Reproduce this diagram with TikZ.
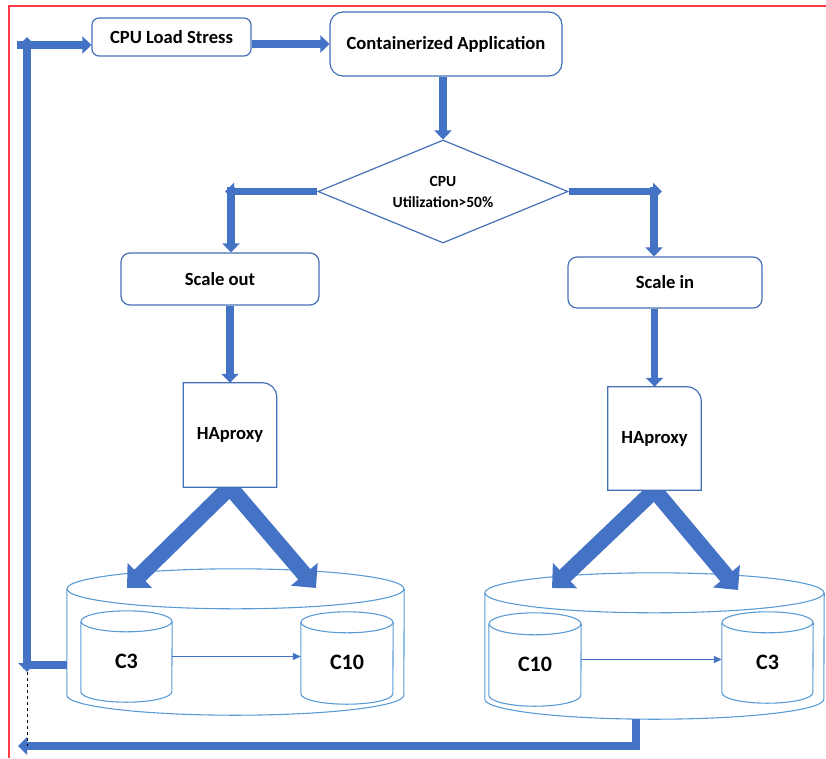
\documentclass[tikz,border=0pt]{standalone}
\usepackage{fontspec}
\setmainfont{Carlito}
\definecolor{boxblue}{HTML}{4470B8}
\definecolor{fatblue}{HTML}{4472C4}
\definecolor{cylblue}{HTML}{5B9BD5}
\definecolor{framered}{HTML}{FF3B47}
\usetikzlibrary{arrows.meta, shapes.geometric, backgrounds, calc}
\newcommand{\drawcyl}[3]
{
	\draw[cylline] ([yshift=-#3]#1.north) ellipse [x radius=#2, y radius=#3];
	\draw[cylline] ([yshift=-#3]#1.north west) -- ([yshift=#3]#1.south west)
		arc [start angle=180, end angle=360, x radius=#2, y radius=#3] -- ([yshift=-#3]#1.north east);
}
\newcommand{\drawproxy}[1]
{
	\draw[proxyline] (#1.south west) -- (#1.north west) -- ([xshift=-14pt]#1.north east)
		arc [start angle=90, end angle=0, radius=14pt] -- (#1.south east) -- cycle;
}

\begin{document}
\begin{tikzpicture}[x=1pt, y=-1pt,
	every node/.append style={font=\bfseries\fontsize{18.6}{20}\selectfont, inner sep=0pt},
	stepbox/.style={shape=rectangle, draw=boxblue, line width=1.2pt, rounded corners=9pt},
	decbox/.style={shape=diamond, draw=boxblue, line width=1.2pt, align=center, aspect=2.43,
		font=\bfseries\fontsize{15.5}{21}\selectfont},
	proxybox/.style={shape=rectangle, fill=white, minimum width=93pt, minimum height=104pt},
	cylbox/.style={shape=rectangle, text height=24pt, font=\bfseries\fontsize{22}{24}\selectfont},
	cylline/.style={draw=cylblue, line width=1.1pt},
	proxyline/.style={draw=boxblue, line width=1.2pt},
	fat/.style={draw=fatblue, line width=7.5pt},
	fatarrow/.style={fat, -{Triangle[length=9pt, width=17pt]}},
	bigarrow/.style={draw=fatblue, line width=16pt, -{Triangle[length=18pt, width=34pt]}},
	thinarrow/.style={draw=fatblue, line width=1.2pt, -{Triangle[length=8pt, width=7pt]}}]

	\useasboundingbox (0, 0) rectangle (826, 758);
	\draw[draw=framered, line width=1.5pt] (9, 758) -- (9, 6) -- (826, 6);

	\node[stepbox, minimum width=159pt, minimum height=38pt, rounded corners=7pt] at (171.5, 37) (load){CPU Load Stress};
	\node[stepbox, minimum width=232pt, minimum height=64pt, rounded corners=13pt] at (446, 44) (app){Containerized Application};
	\node[decbox, minimum width=250pt, minimum height=103pt] at (443, 191.5) (dec){CPU\\Utilization>50\%};
	\node[stepbox, minimum width=198pt, minimum height=52pt] at (220, 279) (sOut){Scale out};
	\node[stepbox, minimum width=194pt, minimum height=51pt] at (665, 282.5) (sIn){Scale in};
	\node[proxybox] at (230, 435) (haL){HAproxy};
	\node[proxybox, minimum height=103pt] at (654.5, 438.5) (haR){HAproxy};
	\drawproxy{haL};
	\drawproxy{haR};

	\node[cylbox, minimum width=337pt, minimum height=146pt] at (235.5, 642) (cylL){};
	\node[cylbox, minimum width=91pt, minimum height=91pt] at (126.5, 656.5) (c3L){C3};
	\node[cylbox, minimum width=92pt, minimum height=92pt] at (347, 658) (c10L){C10};
	\node[cylbox, minimum width=339pt, minimum height=146pt] at (654.5, 646) (cylR){};
	\node[cylbox, minimum width=92pt, minimum height=93pt] at (535, 659.5) (c10R){C10};
	\node[cylbox, minimum width=91pt, minimum height=91pt] at (767.5, 657.5) (c3R){C3};
	\drawcyl{c3L}{45.5pt}{10.5pt};
	\drawcyl{c10L}{46pt}{10.5pt};
	\drawcyl{c10R}{46pt}{11pt};
	\drawcyl{c3R}{45.5pt}{10.5pt};

	\coordinate (inLa) at (127, 588);
	\coordinate (inLb) at (316, 588);
	\coordinate (inRa) at (552, 588);
	\coordinate (inRb) at (738, 590);
	\begin{scope}[on background layer]
		\drawcyl{cylL}{168.5pt}{20pt};
		\drawcyl{cylR}{169.5pt}{20pt};
		\draw[bigarrow] (haL.south) -- (inLa);
		\draw[bigarrow] (haL.south) -- (inLb);
		\draw[bigarrow] (haR.south) -- (inRa);
		\draw[bigarrow] (haR.south) -- (inRb);
	\end{scope}

	\coordinate (outC) at (231, 187);
	\coordinate (inC) at (654, 187);
	\draw[fatarrow] (load.east |- app.west) -- (app.west);
	\draw[fatarrow] (app.south -| dec.north) -- (dec.north);
	\draw[fatarrow] (dec.west) -- ($(dec.west -| outC)+(-6, 0)$);
	\draw[fatarrow] (outC) -- (outC |- sOut.north);
	\draw[fatarrow] (dec.east) -- ($(dec.east -| inC)+(8, 0)$);
	\draw[fatarrow] (inC) -- (inC |- sIn.north);
	\draw[fatarrow] (sOut.south -| haL.north) -- (haL.north);
	\draw[fatarrow] (sIn.south -| haR.north) -- (haR.north);
	\draw[thinarrow] (c3L.east) -- (c3L.east -| c10L.west);
	\draw[thinarrow] (c10R.east) -- (c10R.east -| c3R.west);

	\coordinate (lpJ) at (23, 665);
	\coordinate (lpB) at (27, 672);
	\coordinate (lpT) at (27, 37);
	\coordinate (lpS) at (17, 45);
	\coordinate (back) at (18, 746);
	\draw[fat] (cylL.west |- lpJ) -- (lpJ);
	\draw[fat, {Triangle[length=9pt, width=17pt]}-{Triangle[length=9pt, width=17pt]}] (lpT) -- (lpB);
	\draw[fatarrow] (lpS) -- (load.west |- lpS);
	\draw[fatarrow] ([xshift=-18.5pt]cylR.south) |- (back);
	\draw[dashed, line width=0.8pt] (lpB) -- (lpB |- back);
\end{tikzpicture}
\end{document}
